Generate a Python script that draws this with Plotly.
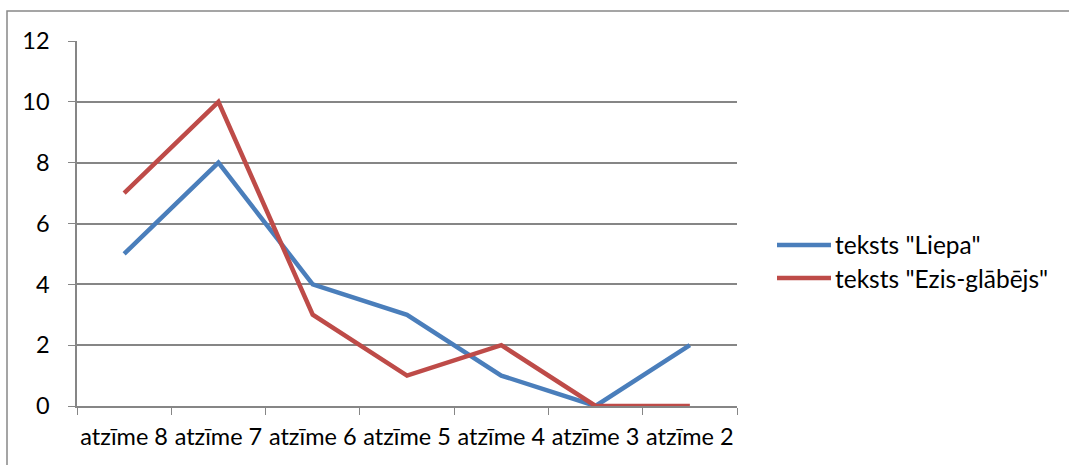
import plotly.graph_objects as go

categories = ["atzīme 8", "atzīme 7", "atzīme 6", "atzīme 5", "atzīme 4", "atzīme 3", "atzīme 2"]
liepa = [5, 8, 4, 3, 1, 0, 2]
ezis = [7, 10, 3, 1, 2, 0, 0]
series_names = ['teksts "Liepa"', 'teksts "Ezis-glābējs"']
colors = ["#4A7EBB", "#BE4B48"]
y_ticks = [0, 2, 4, 6, 8, 10, 12]

W, H = 1069, 465
L, R, T, B = 77, 332, 41, 59
pw, ph = W - L - R, H - T - B

def px_x(x):
    return (x - L) / pw

def px_y(y):
    return (H - B - y) / ph

fig = go.Figure()
for name, vals, col in zip(series_names, [liepa, ezis], colors):
    fig.add_trace(go.Scatter(x=categories, y=vals, mode="lines", name=name,
                             line=dict(color=col, width=4.5), showlegend=False,
                             hoverinfo="skip"))

font = "Lato, 'Open Sans', sans-serif"
shapes = [
    dict(type="rect", xref="paper", yref="paper",
         x0=px_x(7), x1=px_x(1085), y0=px_y(480), y1=px_y(11),
         line=dict(color="#888888", width=1.5), layer="below"),
]
annotations = []
legend_y = [245, 278]
for name, col, ly in zip(series_names, colors, legend_y):
    shapes.append(dict(type="line", xref="paper", yref="paper",
                       x0=px_x(777), x1=px_x(831), y0=px_y(ly), y1=px_y(ly),
                       line=dict(color=col, width=4.5)))
    annotations.append(dict(xref="paper", yref="paper", x=px_x(833), y=px_y(ly),
                            xanchor="left", yanchor="middle", text=name, showarrow=False,
                            font=dict(family=font, size=24.5, color="black")))

fig.update_layout(
    width=W, height=H,
    margin=dict(l=L, r=R, t=T, b=B, autoexpand=False),
    paper_bgcolor="white", plot_bgcolor="white",
    font=dict(family=font, size=23.5, color="black"),
    showlegend=False,
    xaxis=dict(type="category", tickson="boundaries", ticks="outside", ticklen=7,
               tickcolor="#868686", showline=True, linecolor="#868686", linewidth=1.5,
               showgrid=False, range=[-0.5, 6.5], ticklabelstandoff=9, tickangle=0,
               fixedrange=True),
    yaxis=dict(range=[0, 12], tickvals=y_ticks, ticks="outside", ticklen=7,
               tickcolor="#868686", showline=True, linecolor="#868686", linewidth=1.5,
               showgrid=True, gridcolor="#868686", gridwidth=1.5, zeroline=False,
               ticklabelstandoff=14, fixedrange=True),
    shapes=shapes,
    annotations=annotations,
)
fig.write_html("out.html", config={"displayModeBar": False},
               post_script="document.body.style.margin='0';document.body.style.padding='0';")
